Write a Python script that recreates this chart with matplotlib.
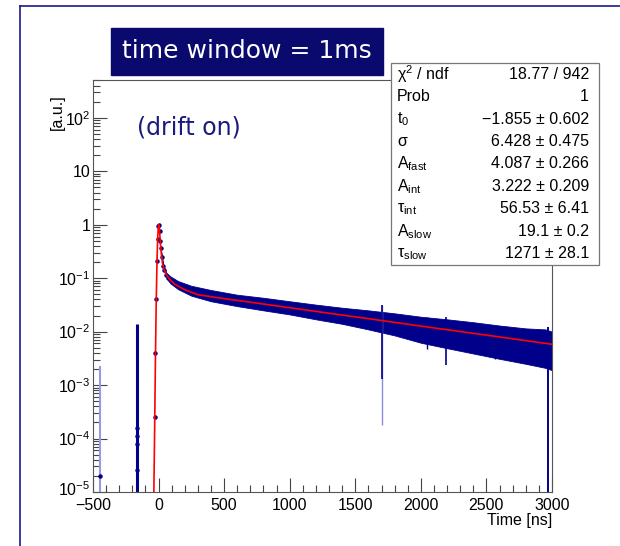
import numpy as np
import matplotlib.pyplot as plt
from matplotlib.patches import Rectangle
from matplotlib.lines import Line2D
from matplotlib.transforms import ScaledTranslation
from matplotlib.ticker import LogLocator, MultipleLocator, FuncFormatter, NullFormatter

plt.rcParams['font.family'] = ['Liberation Sans', 'DejaVu Sans']
plt.rcParams['mathtext.fontset'] = 'custom'
plt.rcParams['mathtext.rm'] = 'Liberation Sans'
plt.rcParams['mathtext.it'] = 'Liberation Sans'
plt.rcParams['mathtext.bf'] = 'Liberation Sans:bold'

navy = '#00008b'

# fitted curve
fit_t = [-36, -30, -24, -18, -12, -7, -2, 2, 6, 10, 15, 20, 30, 40, 60, 90, 130, 200,
         300, 500, 700, 1000, 1300, 1600, 2000, 2400, 2800, 3000]
fit_y = [1e-5, 1.5e-4, 3e-3, 0.035, 0.2, 0.55, 0.92, 1.0, 0.85, 0.62, 0.42, 0.3, 0.19,
         0.15, 0.115, 0.092, 0.075, 0.061, 0.049, 0.0415, 0.0356, 0.028, 0.0221, 0.0175,
         0.0127, 0.0093, 0.0068, 0.0058]

# data points around the peak
peak_t = [-30, -24, -18, -12, -7, -2, 3, 8, 13, 18, 25, 35, 45, 60, 75, 90]
peak_y = [2.5e-4, 4e-3, 0.04, 0.21, 0.55, 0.95, 1.0, 0.75, 0.5, 0.36, 0.25, 0.17,
          0.14, 0.115, 0.1, 0.092]

# noisy band of the histogram (lower / upper envelope)
band_t = [20, 36, 60, 90, 150, 250, 400, 600, 800, 1000, 1200, 1400, 1600, 1800,
          2000, 2200, 2400, 2600, 2800, 2950, 3000]
band_lo = [0.28, 0.15, 0.105, 0.08, 0.062, 0.047, 0.037, 0.03, 0.025, 0.021, 0.017,
           0.014, 0.011, 0.0085, 0.0062, 0.0049, 0.0039, 0.0031, 0.0025, 0.0021, 0.0019]
band_hi = [0.32, 0.18, 0.125, 0.108, 0.088, 0.072, 0.06, 0.049, 0.043, 0.037, 0.032,
           0.028, 0.025, 0.022, 0.019, 0.017, 0.015, 0.013, 0.0115, 0.011, 0.010]

# isolated spikes / dips
spike_t = [-167, 1700, 1700, 2050, 2190, 2565, 2970]
spike_lo = [1e-5, 1.8e-4, 1.3e-3, 0.0048, 0.0024, 0.0031, 1e-5]
spike_hi = [0.014, 0.032, 0.032, 0.019, 0.019, 0.013, 0.012]
spike_col = [navy, '#8c8cdc', navy, navy, navy, navy, navy]
spike_lw = [2.2, 1.0, 1.2, 1.0, 1.2, 1.0, 1.4]

# lone points on the left
pre_t = [-447, -167, -167, -167, -167]
pre_y = [2e-5, 1.6e-4, 1.1e-4, 8e-5, 2.6e-5]

stats_names = ['\u03c7$^{2}$ / ndf', 'Prob', 't$_{0}$', '\u03c3', 'A$_{fast}$',
               'A$_{int}$', '\u03c4$_{int}$', 'A$_{slow}$', '\u03c4$_{slow}$']
stats_vals = ['18.77 / 942', '1', '\u22121.855 \u00b1 0.602', '6.428 \u00b1 0.475',
              '4.087 \u00b1 0.266', '3.222 \u00b1 0.209', '56.53 \u00b1 6.41',
              '19.1 \u00b1 0.2', '1271 \u00b1 28.1']

W, H = 620, 546
fig = plt.figure(figsize=(W / 100, H / 100), dpi=100)
ax = fig.add_axes([93 / W, 1 - 492 / H, 459 / W, 412 / H])
ax.set_yscale('log')
ax.set_xlim(-500, 3000)
ax.set_ylim(1e-5, 5.1e2)

ax.fill_between(band_t, band_lo, band_hi, color=navy, lw=0.6, zorder=2)
ax.vlines([-447], 1e-5, 2.3e-3, color='#9a9ae0', lw=1.5, zorder=2)
for t, lo, hi, c, lw in zip(spike_t, spike_lo, spike_hi, spike_col, spike_lw):
    ax.vlines(t, lo, hi, color=c, lw=lw, zorder=2)
ax.plot(pre_t, pre_y, 'o', color=navy, ms=2.2, zorder=3)
ax.plot(peak_t, peak_y, 'o', color=navy, ms=2.2, zorder=3)
ax.plot(fit_t, fit_y, color='red', lw=1.2, zorder=4)


def fmt(v, pos):
    e = int(round(np.log10(v)))
    if e == 0:
        return '1'
    if e == 1:
        return '10'
    return r'$10^{%d}$' % e


ax.yaxis.set_major_locator(LogLocator(base=10, numticks=20))
ax.yaxis.set_minor_locator(LogLocator(base=10, subs=range(2, 10), numticks=20))
ax.yaxis.set_major_formatter(FuncFormatter(fmt))
ax.yaxis.set_minor_formatter(NullFormatter())
ax.xaxis.set_major_locator(MultipleLocator(500))
ax.xaxis.set_minor_locator(MultipleLocator(100))
ax.tick_params(which='both', direction='in', top=False, right=False, color='#444444',
               labelsize=11.5)
ax.tick_params(which='major', length=10, width=0.8)
ax.tick_params(which='minor', length=5, width=0.8)
ax.tick_params(axis='x', pad=4)
ax.tick_params(axis='y', pad=2)
for s in ax.spines.values():
    s.set_color('#555555')
    s.set_linewidth(0.8)

fig.text(552 / W, 1 - 520 / H, 'Time [ns]', ha='right', va='center', fontsize=11.5)
fig.text(57 / W, 1 - 94 / H, '[a.u.]', rotation=90, ha='center', va='top', fontsize=11.5)

# outer frame
fig.add_artist(Line2D([20 / W, 20 / W], [0, 1 - 6 / H], color='#1a1a8c', lw=1.2))
fig.add_artist(Line2D([20 / W, 1], [1 - 6 / H, 1 - 6 / H], color='#1a1a8c', lw=1.2))

# title box
fig.add_artist(Rectangle((111 / W, 1 - 75 / H), 272 / W, 47 / H, transform=fig.transFigure,
                         fc='#0a0a6e', ec='#0a0a6e', zorder=5))
fig.text(247 / W, 1 - 51 / H, 'time window = 1ms', color='white', ha='center', va='center',
         fontsize=18, family='DejaVu Sans', zorder=6)
fig.text(137 / W, 1 - 127 / H, '(drift on)', color='#1a1a80', ha='left', va='center',
         fontsize=17, family='DejaVu Sans', zorder=6)

# stats box
fig.add_artist(Rectangle((391 / W, 1 - 265 / H), 208 / W, 202 / H, transform=fig.transFigure,
                         fc='white', ec='#777777', lw=0.9, zorder=5))
row_h = 202 / 9
for i, (n, v) in enumerate(zip(stats_names, stats_vals)):
    yc = 1 - (63 + row_h * (i + 0.5)) / H
    fig.text(397 / W, yc, n, ha='left', va='center', fontsize=11.5, zorder=6)
    fig.text(589 / W, yc, v, ha='right', va='center', fontsize=11.5, zorder=6)

# nudge the lowest y label up a touch so it clears the -500 label
fig.canvas.draw()
for tick in ax.yaxis.get_major_ticks():
    if abs(tick.get_loc() - 1e-5) < 1e-9:
        lab = tick.label1
        lab.set_transform(lab.get_transform() + ScaledTranslation(0, 2.5 / 72, fig.dpi_scale_trans))

fig.savefig('out.png', dpi=100)
